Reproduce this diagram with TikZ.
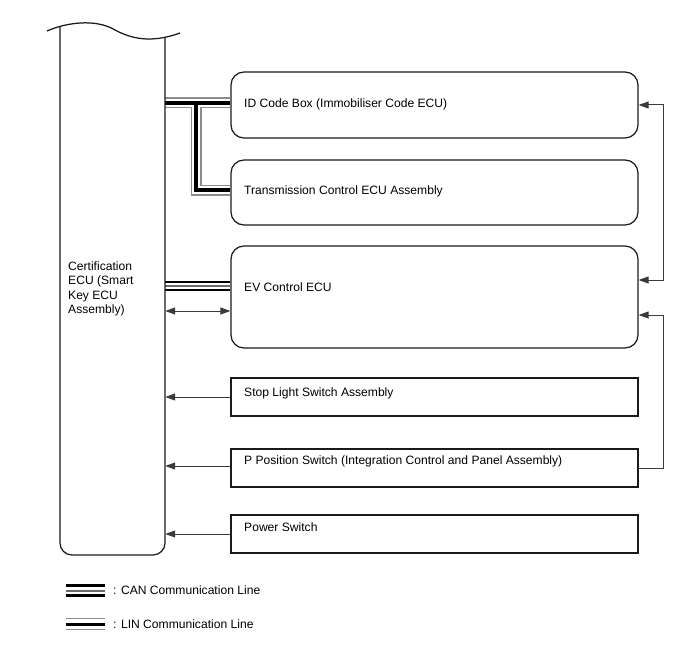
\documentclass[tikz,border=0pt]{standalone}
\usepackage{fontspec}
\setmainfont{Liberation Sans}
\usetikzlibrary{arrows.meta,backgrounds}
\definecolor{boxc}{HTML}{1A1A1A}
\definecolor{connc}{HTML}{3A3A3A}
\definecolor{lingray}{HTML}{8C8C8C}
\definecolor{cangray}{HTML}{6A6A6A}
\begin{document}
\begin{tikzpicture}[x=1pt,y=-1pt,
  rbox/.style={draw=boxc, line width=1.25pt, rounded corners=13pt, minimum width=407pt, inner sep=0pt},
  sbox/.style={draw=boxc, line width=1.15pt, minimum width=407pt, inner sep=0pt},
  lbl/.style={anchor=base west, inner sep=0pt, font=\fontsize{12.1}{14.5}\selectfont},
  conn/.style={draw=connc, line width=1pt},
  tip/.tip={Triangle[length=10pt,width=7pt]},
  bundle/.style={line join=miter, line cap=butt}]
\useasboundingbox (0,0) rectangle (688,658);

% Certification ECU
\node[inner sep=0pt, minimum width=105pt, minimum height=529pt] (cert) at (112.5,290.5) {};
\draw[draw=boxc, line width=1.25pt, rounded corners=12pt] (60,26.8) -- (60,555) -- (165,555) -- (165,37.5);
\draw[draw=boxc, line width=1.25pt] (47,31) .. controls (65,23) and (95,18) .. (115,30) .. controls (130,38) and (150,44) .. (180,33);
\node[anchor=north west, inner sep=0pt, align=left, font=\fontsize{12.1}{14.5}\selectfont] (certl) at (68,261.5) {Certification\\ECU (Smart\\Key ECU\\Assembly)};

% Boxes
\node[rbox, minimum height=66pt] (id) at (434.5,105) {};
\node[rbox, minimum height=65pt] (trans) at (434.5,192.5) {};
\node[rbox, minimum height=102pt] (ev) at (434.5,297) {};
\node[sbox, minimum height=38pt] (stop) at (434.5,397) {};
\node[sbox, minimum height=38pt] (ppos) at (434.5,468) {};
\node[sbox, minimum height=38pt] (power) at (434.5,534) {};

% Labels
\node[lbl] (idl) at (244,107.3) {ID Code Box (Immobiliser Code ECU)};
\node[lbl] (transl) at (244,194.3) {Transmission Control ECU Assembly};
\node[lbl] (evl) at (244,291.3) {EV Control ECU};
\node[lbl] (stopl) at (244,396.3) {Stop Light Switch Assembly};
\node[lbl] (pposl) at (244,464.3) {P Position Switch (Integration Control and Panel Assembly)};
\node[lbl] (powerl) at (244,531.3) {Power Switch};

% Connectors
\coordinate (rr) at (663,0);
\coordinate (jn) at (196,0);
\draw[conn,tip-tip] (id.east) -- (id.east -| rr) |- (ev.east |- 0,280);
\draw[conn,-tip] (ppos.east) -- (ppos.east -| rr) |- (ev.east |- 0,315);
\draw[conn,tip-tip] (cert.east |- 0,311) -- (ev.west |- 0,311);
\draw[conn,-tip] (stop.west) -- (stop.west -| cert.east);
\draw[conn,-tip] (ppos.west |- 0,466) -- (cert.east |- 0,466);
\draw[conn,-tip] (power.west) -- (power.west -| cert.east);

% Bundles
\begin{scope}[on background layer]
  \foreach \w/\c in {11/lingray, 8.2/white, 3.5/black}
    \draw[bundle, line width=\w pt, draw=\c] (cert.east |- 0,103) -- (id.west |- 0,103)
      (jn |- 0,103) -- (jn |- 0,190) -- (trans.west |- 0,190);
  \foreach \w/\c in {10/black, 5.5/white, 1.8/cangray}
    \draw[bundle, line width=\w pt, draw=\c] (cert.east |- 0,286) -- (ev.west |- 0,286);
\end{scope}

% Legend
\coordinate (can1) at (66,590.5);
\coordinate (can2) at (105,590.5);
\coordinate (lin1) at (66,624.2);
\coordinate (lin2) at (105,624.2);
\foreach \w/\c in {12.4/black, 6.6/white, 2/cangray}
  \draw[bundle, line width=\w pt, draw=\c] (can1) -- (can2);
\foreach \w/\c in {12.5/lingray, 10/white, 3.4/black}
  \draw[bundle, line width=\w pt, draw=\c] (lin1) -- (lin2);
\node[lbl] (canl) at (113,594.8) {: CAN Communication Line};
\node[lbl] (linl) at (113,628.5) {: LIN Communication Line};
\end{tikzpicture}
\end{document}
